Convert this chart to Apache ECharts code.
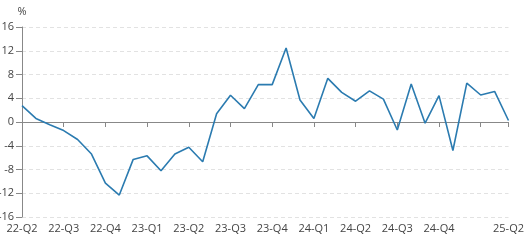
<!DOCTYPE html>
<html>
<head>
<meta charset="utf-8">
<script src="https://cdn.jsdelivr.net/npm/echarts@6/dist/echarts.min.js"></script>
<style>
html,body{margin:0;padding:0;background:#fff;}
#chart{width:529px;height:245px;}
</style>
</head>
<body>
<div id="chart"></div>
<script>
const periods = ['2022-04','2022-05','2022-06','2022-07','2022-08','2022-09','2022-10','2022-11','2022-12',
  '2023-01','2023-02','2023-03','2023-04','2023-05','2023-06','2023-07','2023-08','2023-09','2023-10','2023-11','2023-12',
  '2024-01','2024-02','2024-03','2024-04','2024-05','2024-06','2024-07','2024-08','2024-09','2024-10','2024-11','2024-12',
  '2025-01','2025-02','2025-03'];
const values = [2.75, 0.6, -0.45, -1.45, -2.95, -5.4, -10.3, -12.3, -6.3, -5.7, -8.2, -5.4,
  -4.25, -6.7, 1.4, 4.5, 2.25, 6.3, 6.3, 12.45, 3.7, 0.6, 7.35, 5.0,
  3.5, 5.25, 3.85, -1.35, 6.4, -0.2, 4.45, -4.8, 6.55, 4.55, 5.15, 0.25];
const tickLabels = {0:'22-Q2',3:'22-Q3',6:'22-Q4',9:'23-Q1',12:'23-Q2',15:'23-Q3',18:'23-Q4',21:'24-Q1',24:'24-Q2',27:'24-Q3',30:'24-Q4',35:'25-Q2'};
const tickIdx = [0,3,6,9,12,15,18,21,24,27,30,33,35];
const yTicks = {min:-16, max:16, interval:4};

const chart = echarts.init(document.getElementById('chart'));
const font = '"Open Sans", "Noto Sans", sans-serif';
chart.setOption({
  animation:false,
  grid:{left:22, right:20.5, top:27, bottom:28, containLabel:false, outerBoundsMode:'none'},
  xAxis:{
    type:'category', data:periods, boundaryGap:false,
    axisLine:{lineStyle:{color:'#888', width:1}},
    axisTick:{interval:(i)=>tickIdx.indexOf(i)>=0, length:5, lineStyle:{color:'#888'}},
    axisLabel:{interval:(i)=>tickLabels[i]!==undefined, formatter:(v,i)=>tickLabels[i]||'', color:'#444', fontSize:11, fontFamily:font, margin:6, hideOverlap:false},
    splitLine:{show:false}
  },
  yAxis:{
    type:'value', min:yTicks.min, max:yTicks.max, interval:yTicks.interval,
    name:'%', nameLocation:'end', nameGap:10, nameTextStyle:{color:'#444', fontSize:11, fontFamily:font, align:'center', padding:[0,0,0,0]},
    axisLine:{show:true, lineStyle:{color:'#888', width:1}},
    axisTick:{show:true, length:6, lineStyle:{color:'#888'}},
    axisLabel:{color:'#444', fontSize:11, fontFamily:font, margin:8},
    splitLine:{show:true, lineStyle:{color:'#e2e2e2', type:[4,3], width:1}}
  },
  series:[{
    type:'line', data:values, symbol:'none', smooth:false,
    lineStyle:{color:'#2b7bb0', width:1.6}
  }]
});
</script>
</body>
</html>
